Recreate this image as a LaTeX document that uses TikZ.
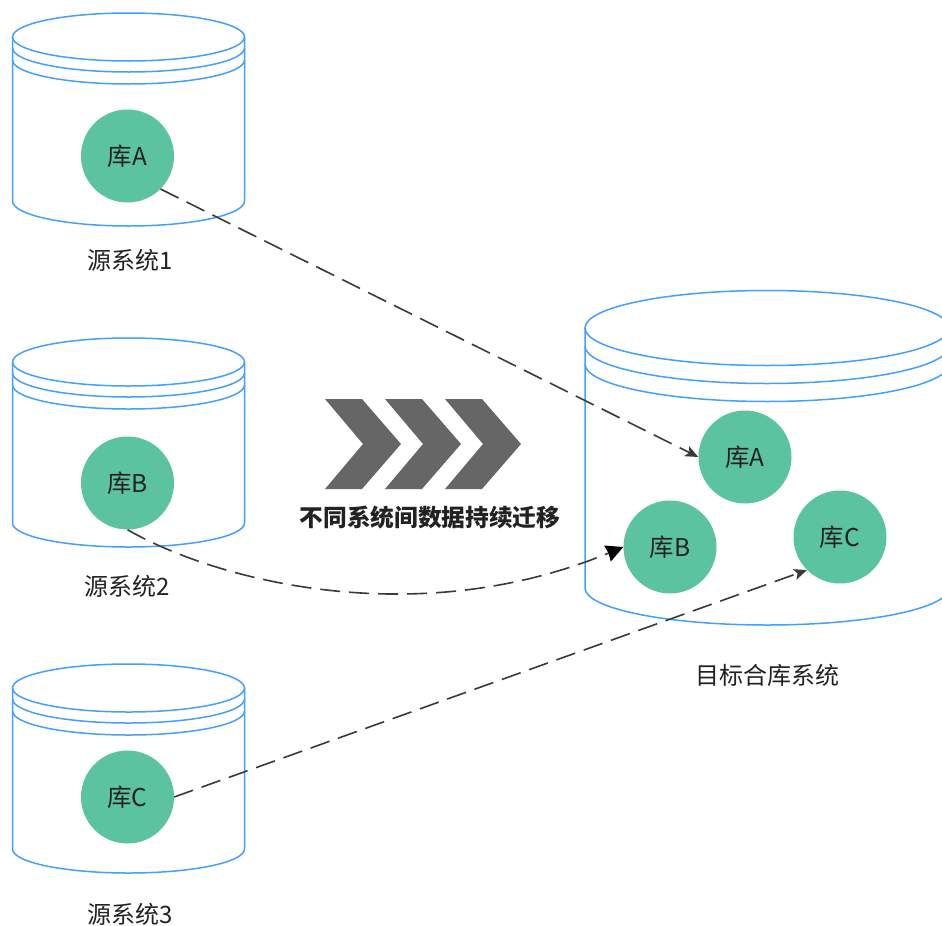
\documentclass[tikz,border=0pt]{standalone}
\usepackage{fontspec}
\setmainfont{Noto Sans CJK SC}
\usetikzlibrary{arrows.meta}
\definecolor{cylblue}{HTML}{459FFF}
\definecolor{dbgreen}{HTML}{5CC3A0}
\definecolor{chev}{HTML}{666666}
\definecolor{linkc}{HTML}{3A3A3A}
\definecolor{txt}{HTML}{222222}
\tikzset{
  x=1bp,y=-1bp,
  cyl/.style={draw=cylblue,line width=1.5bp},
  dbnode/.style={circle,fill=dbgreen,minimum size=93bp,inner sep=0pt,font=\fontsize{24.5bp}{26bp}\selectfont,text=txt},
  lab/.style={inner sep=0pt,font=\fontsize{24bp}{26bp}\selectfont,text=txt},
  link/.style={draw=linkc,line width=1.6bp,dash pattern=on 20bp off 9bp},
  smalltip/.style={-{Stealth[length=13bp,width=11bp,inset=3bp]}},
  bigtip/.style={-{Stealth[length=17bp,width=17bp,inset=1bp,black]}},
  chevshape/.style={fill=chev,draw=none}
}
% #1 centre x, #2 half width, #3 top rim centre y, #4 rim ry, #5 second line offset, #6 third line offset, #7 side end y, #8 bottom ry
\newcommand{\mycyl}[8]{%
  \draw[cyl] (#1,#3) ellipse [x radius=#2,y radius=#4];
  \draw[cyl] (#1-#2,#3) -- (#1-#2,#7) arc[start angle=180,end angle=0,x radius=#2,y radius=#8] -- (#1+#2,#3);
  \draw[cyl] (#1-#2,#3+#5) arc[start angle=180,end angle=0,x radius=#2,y radius=#4];
  \draw[cyl] (#1-#2,#3+#6) arc[start angle=180,end angle=0,x radius=#2,y radius=#4];
}
\newcommand{\mychev}[1]{%
  \fill[chevshape] (325+#1,399) -- (362+#1,399) -- (401+#1,444) -- (362+#1,489) -- (325+#1,489) -- (363+#1,444) -- cycle;
}
\begin{document}
\begin{tikzpicture}
\useasboundingbox (0,0) rectangle (942,926);
\clip (0,0) rectangle (942,926);
\fill[white] (0,0) rectangle (942,926);

\mycyl{128.5}{116}{37}{24}{11}{23}{201}{25}
\mycyl{128.5}{116}{362}{24}{11}{23}{523}{24}
\mycyl{128.5}{116}{688}{24}{11}{23}{849}{24}
\mycyl{767}{182}{328}{37.5}{18}{36}{588}{37}

\node[dbnode] (a1) at (127.5,156) {库A};
\node[dbnode] (b1) at (127.5,483) {库B};
\node[dbnode] (c1) at (127.5,797) {库C};
\node[dbnode] (a2) at (745,457) {库A};
\node[dbnode] (b2) at (670,547) {库B};
\node[dbnode] (c2) at (840,537) {库C};

\node[lab] (l1) at (130,260) {源系统1};
\node[lab] (l2) at (127,586) {源系统2};
\node[lab] (l3) at (130,914) {源系统3};
\node[lab] (l4) at (767,675) {目标合库系统};
\node[lab,font=\fontsize{23.7bp}{26bp}\selectfont\bfseries] (l5) at (430,517) {不同系统间数据持续迁移};

\mychev{0}
\mychev{60}
\mychev{120}

\draw[link,smalltip] (a1.-45) -- (a2.west);
\draw[link,bigtip] (b1.south) .. controls (215,580) and (415,633) .. (b2.west);
\draw[link,smalltip] (c1.east) -- (c2.225);
\end{tikzpicture}
\end{document}
